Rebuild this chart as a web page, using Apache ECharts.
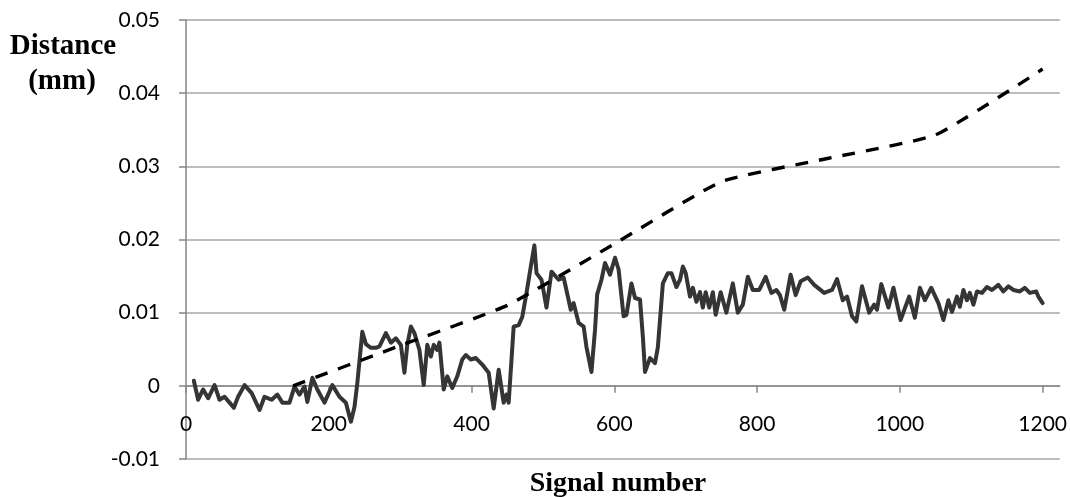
<!DOCTYPE html>
<html>
<head>
<meta charset="utf-8">
<script src="https://cdn.jsdelivr.net/npm/echarts@6/dist/echarts.min.js"></script>
<style>
html,body{margin:0;padding:0;background:#fff;}
#chart{width:1070px;height:497px;}
</style>
</head>
<body>
<div id="chart"></div>
<script>
// Measured distance (solid line)
const measuredX = [11,17,24,31,40,47,54,61,67,73,82,92,103,110,120,128,135,145,152,159,166,170,177,184,194,205,215,224,231,236,240,
247,252,259,266,271,280,287,294,301,306,310,315,320,327,333,338,343,347,352,355,361,366,373,380,387,392,399,406,
415,424,431,438,445,449,452,459,466,471,477,483,488,491,498,505,512,522,529,539,543,550,557,561,568,573,576,582,587,594,601,606,
613,617,624,629,636,640,643,650,657,661,668,675,680,687,692,696,700,706,710,715,720,724,728,733,738,742,749,757,766,773,780,787,794,
803,812,820,827,832,838,847,854,861,871,
880,894,905,912,920,926,933,939,947,957,964,968,974,984,991,1001,1013,1021,1028,1035,1044,1054,1061,1068,1073,1080,1084,1089,1094,1098,1103,1108,1115,1122,1129,1138,1145,1152,1159,1168,1175,1182,1191,1194,1200];
const measuredY = [0.0007,-0.0019,-0.0005,-0.0017,0.0001,-0.0019,-0.0015,-0.0023,-0.003,-0.0015,0.0001,-0.001,-0.0033,-0.0015,-0.0019,-0.0012,-0.0023,-0.0023,-0.0001,-0.0012,-0.0001,-0.0022,0.0011,-0.0005,-0.0023,0.0001,-0.0015,-0.0023,-0.0049,-0.0029,0.0004,
0.0074,0.0057,0.0052,0.0052,0.0054,0.0072,0.0059,0.0065,0.0056,0.0018,0.0056,0.0081,0.0072,0.0049,0.0001,0.0056,0.004,0.0056,0.0049,0.0059,-0.0005,0.0013,-0.0003,0.0013,0.0036,0.0042,0.0036,0.0038,
0.0029,0.0018,-0.0031,0.0022,-0.0023,-0.0012,-0.0023,0.0081,0.0083,0.0094,0.0127,0.0163,0.0192,0.0154,0.0145,0.0107,0.0156,0.0145,0.0148,0.0104,0.0113,0.0086,0.0081,0.0053,0.0019,0.0077,0.0125,0.0145,0.0168,0.0152,0.0175,0.0159,
0.0095,0.0097,0.014,0.012,0.0118,0.0067,0.0019,0.0038,0.0031,0.0053,0.014,0.0154,0.0154,0.0135,0.0145,0.0163,0.0154,0.0122,0.0134,0.0115,0.0128,0.0107,0.0128,0.0107,0.0128,0.0097,0.0128,0.01,0.014,0.01,0.0111,0.0149,0.0131,
0.0131,0.0149,0.0127,0.0131,0.0124,0.0104,0.0152,0.0124,0.0143,0.0148,
0.0138,0.0127,0.0131,0.0146,0.0117,0.0122,0.0095,0.0088,0.0136,0.01,0.0111,0.0104,0.0139,0.0107,0.0134,0.009,0.0122,0.0093,0.0134,0.0117,0.0134,0.0113,0.009,0.0117,0.0101,0.0122,0.0108,0.0131,0.0117,0.0127,0.0111,0.0129,0.0127,0.0135,0.0131,0.0138,0.0129,0.0136,0.0131,0.0129,0.0134,0.0127,0.0129,0.0122,0.0113];

// Reference curve (dashed line)
const refX = [150,300,450,600,750,900,1050,1200];
const refY = [0,0.0055,0.011,0.0194,0.0279,0.0311,0.0343,0.0433];

// Axis tick labels
const xTicks = [0,200,400,600,800,1000,1200];
const yTicks = [-0.01,0,0.01,0.02,0.03,0.04,0.05];

const yTitleLines = ['Distance','(mm)'];
const xTitle = 'Signal number';

const gridTop = 20, gridBottom = 38, chartH = 497;
const plotH = chartH - gridTop - gridBottom;
const yMin = yTicks[0], yMax = yTicks[yTicks.length-1];
// move the x axis from the bottom of the plot up to y = 0
const xAxisOffset = -plotH * (0 - yMin) / (yMax - yMin);

const chart = echarts.init(document.getElementById('chart'), null, {renderer:'canvas'});
const tickFont = 'Lato';
const serif = 'Liberation Serif';
const option = {
  animation:false,
  backgroundColor:'#ffffff',
  grid:{left:186,right:7,top:gridTop,bottom:gridBottom,containLabel:false},
  xAxis:{
    type:'value', min:0, max:1224, interval:200, offset:xAxisOffset,
    axisLine:{show:true,onZero:false,lineStyle:{color:'#868686',width:1.5}},
    axisTick:{show:true,inside:false,length:7,customValues:xTicks,lineStyle:{color:'#868686',width:1.5}},
    axisLabel:{customValues:xTicks,margin:28,color:'#000',fontFamily:tickFont,fontSize:21,formatter:v=>String(v)},
    splitLine:{show:false}
  },
  yAxis:{
    type:'value', min:yMin, max:yMax, interval:0.01,
    axisLine:{show:true,lineStyle:{color:'#868686',width:1.5}},
    axisTick:{show:true,inside:false,length:7,lineStyle:{color:'#868686',width:1.5}},
    axisLabel:{margin:26,color:'#000',fontFamily:tickFont,fontSize:21},
    splitLine:{show:true,lineStyle:{color:'#a6a6a6',width:1.5}}
  },
  graphic:[
    {type:'text',x:63,y:47,style:{text:yTitleLines[0],fontFamily:serif,fontWeight:'bold',fontSize:29,fill:'#000',textAlign:'center',textVerticalAlign:'middle'}},
    {type:'text',x:62,y:82,style:{text:yTitleLines[1],fontFamily:serif,fontWeight:'bold',fontSize:29,fill:'#000',textAlign:'center',textVerticalAlign:'middle'}},
    {type:'text',x:618,y:484,style:{text:xTitle,fontFamily:serif,fontWeight:'bold',fontSize:28,fill:'#000',textAlign:'center',textVerticalAlign:'middle'}}
  ],
  series:[
    {type:'line',data:measuredX.map((x,i)=>[x,measuredY[i]]),showSymbol:false,symbol:'none',
     lineStyle:{color:'#353535',width:4,join:'round',cap:'round'},z:2},
    {type:'line',data:refX.map((x,i)=>[x,refY[i]]),showSymbol:false,symbol:'none',smooth:0.15,
     lineStyle:{color:'#000',width:3.4,type:[13,11],cap:'butt'},z:3}
  ]
};
chart.setOption(option);
</script>
</body>
</html>
